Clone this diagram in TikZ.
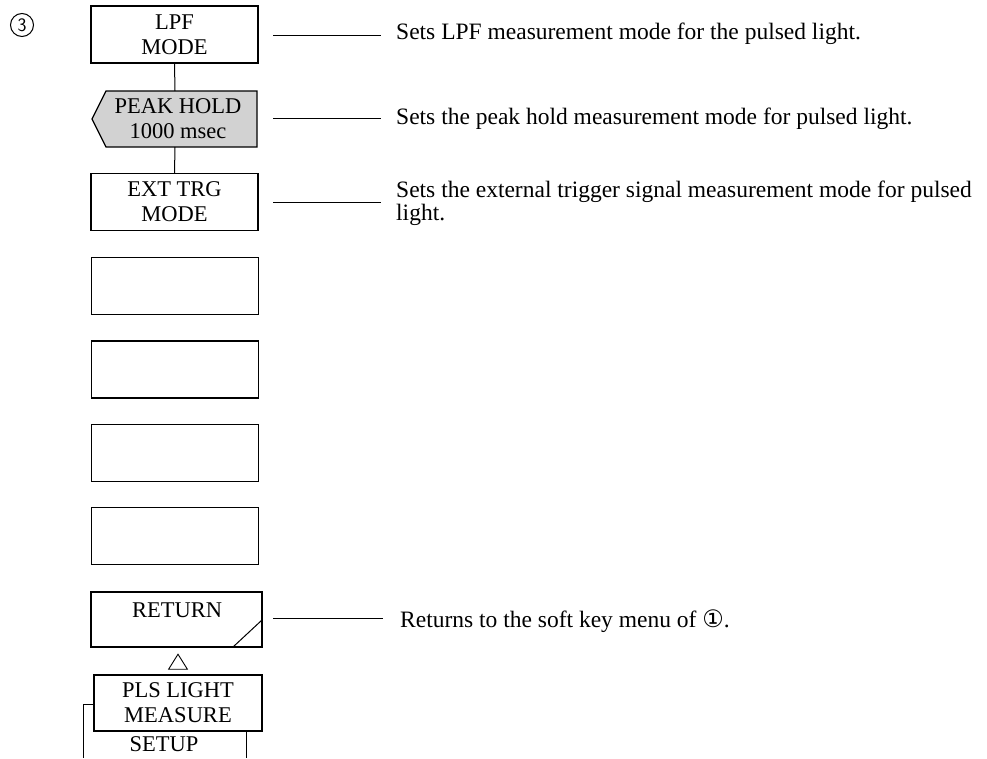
\documentclass[tikz,border=0pt]{standalone}
\usepackage{fontspec}
\setmainfont{Liberation Serif}
\newfontfamily\symfont{DejaVu Sans}
\usetikzlibrary{calc,shapes.geometric}
\tikzset{
  softkey/.style={draw, line width=1.3pt, minimum width=167, minimum height=57, inner sep=0pt, align=center, font=\fontsize{22.5}{25}\selectfont},
  keytext/.style={inner sep=0pt, align=center, font=\fontsize{22.5}{25}\selectfont},
  desc/.style={inner sep=0pt, anchor=west, align=left, font=\fontsize{23.5}{23}\selectfont},
  leader/.style={line width=1pt},
  conn/.style={line width=1pt},
}
\begin{document}
\begin{tikzpicture}[x=1pt,y=-1pt]
\useasboundingbox (0,0) rectangle (987,758);
% circled number
\node[inner sep=0pt, font=\sffamily\fontsize{19}{19}\selectfont] (num) at (22,25) {3};
\draw[line width=1pt] (num.center) circle[radius=11.5pt];
% keys
\node[softkey] (lpf) at (174.5,34.5) {LPF\\MODE};
\filldraw[line width=1.3pt, fill=gray!35] (106,91) -- (257,91) -- (257,147) -- (106,147) -- (92,119) -- cycle;
\node[keytext, minimum width=151, minimum height=56] (peak) at (178,119) {PEAK HOLD\\1000 msec};
\node[softkey] (ext) at (174.5,202) {EXT TRG\\MODE};
\node[softkey] (k4) at (175,286) {};
\node[softkey] (k5) at (175,369.5) {};
\node[softkey] (k6) at (175,453) {};
\node[softkey] (k7) at (175,536) {};
\node[softkey, minimum width=171, minimum height=55] (ret) at (176.5,619.5) {};
\node[keytext] (rettext) at (177,610) {RETURN};
\draw[line width=1pt] (233,647) -- (262,620);
\node[draw, isosceles triangle, isosceles triangle apex angle=64, shape border rotate=90, line width=0.9pt, minimum height=15, minimum width=18, inner sep=0pt] (tri) at (178,664) {};
\node[softkey, minimum width=168, minimum height=56] (pls) at (178,703) {PLS LIGHT\\MEASURE};
\node[keytext] (setup) at (164,744) {SETUP};
\coordinate (s1) at (246,731);
\coordinate (s2) at (246,758);
\coordinate (b1) at (94,704);
\coordinate (b2) at (83,704);
\coordinate (b3) at (83,758);
\draw[conn] (s1) -- (s2);
\draw[conn] (b1) -- (b2) -- (b3);
% vertical connectors
\draw[conn] (lpf.south) -- (175,91);
\draw[conn] (175,147) -- (ext.north);
% descriptions
\node[desc] (d1) at (396,34) {Sets LPF measurement mode for the pulsed light.};
\node[desc] (d2) at (396,119) {Sets the peak hold measurement mode for pulsed light.};
\node[desc, anchor=north west] (d3) at (396,181) {Sets the external trigger signal measurement mode for pulsed\\light.};
\node[desc] (d4) at (400,621) {Returns to the soft key menu of {\symfont\fontsize{24}{24}\selectfont ①}.};
% leaders
\draw[leader] (273,35) -- (381,35);
\draw[leader] (273,118) -- (381,118);
\draw[leader] (273,202) -- (381,202);
\draw[leader] (273,618) -- (383,618);
\end{tikzpicture}
\end{document}
